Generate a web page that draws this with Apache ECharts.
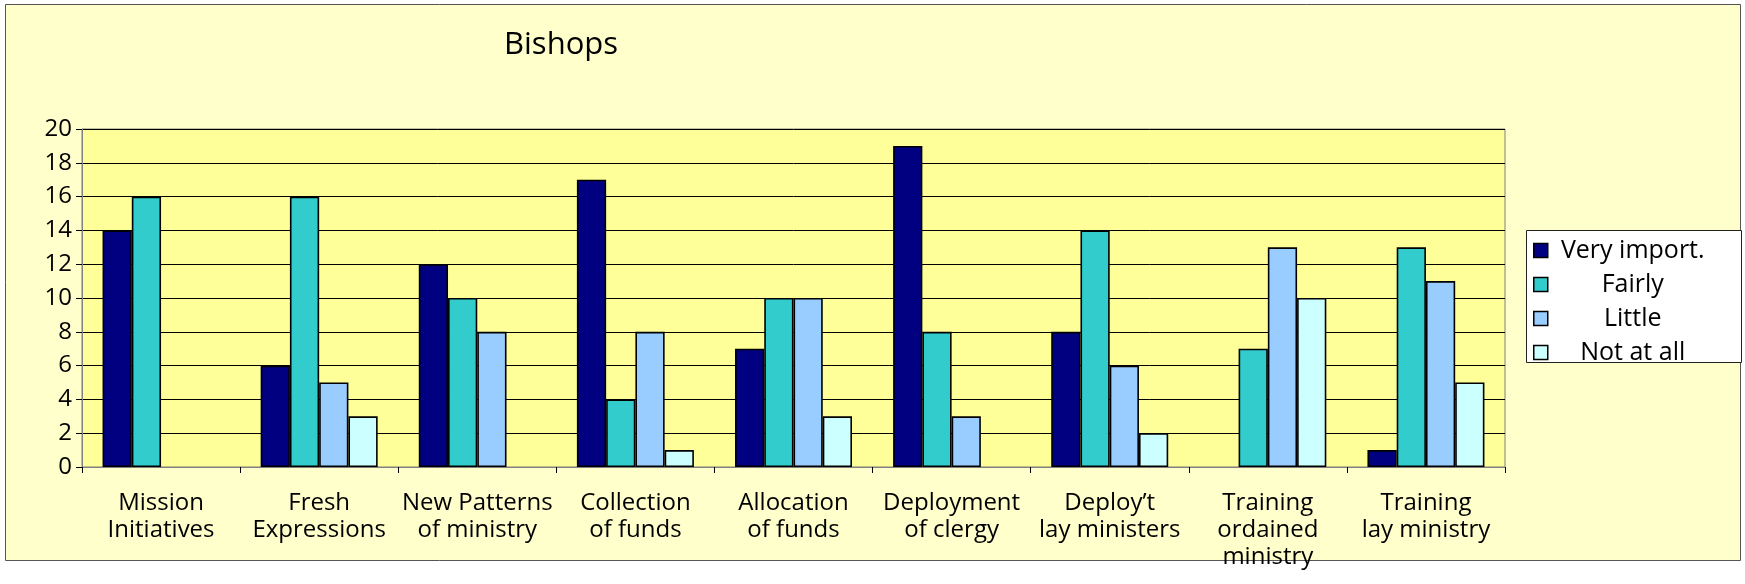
<!DOCTYPE html>
<html>
<head>
<meta charset="utf-8">
<script src="https://cdn.jsdelivr.net/npm/echarts@6/dist/echarts.min.js"></script>
<style>
  html, body { margin: 0; padding: 0; background: #fff; }
  #chart { width: 1745px; height: 584px; }
</style>
</head>
<body>
<div id="chart"></div>
<script>
// categories and answer counts
const categories = [
    'Mission\nInitiatives', 'Fresh\nExpressions', 'New Patterns\nof ministry',
    'Collection\nof funds', 'Allocation\nof funds', 'Deployment\nof clergy',
    'Deploy\u2019t\nlay ministers', 'Training\nordained\nministry', 'Training\nlay ministry'
];
const seriesNames = ['Very import.', 'Fairly', 'Little', 'Not at all'];
const veryImport = [14, 6, 12, 17, 7, 19, 8, 0, 1];
const fairly     = [16, 16, 10, 4, 10, 8, 14, 7, 13];
const little     = [0, 5, 8, 8, 10, 3, 6, 13, 11];
const notAtAll   = [0, 3, 0, 1, 3, 0, 2, 10, 5];
const yTicks = { min: 0, max: 20, interval: 2 };

const barColors = ['#000080', '#33CCCC', '#99CCFF', '#CCFFFF'];
const fontFam = '"Open Sans", sans-serif';

const chart = echarts.init(document.getElementById('chart'));

// zero counts are simply not drawn (no flat outline on the axis)
const buildSeries = (name, data, color) => ({
    name: name,
    type: 'bar',
    data: data.map(v => (v === 0 ? '-' : v)),
    barGap: '0%',
    barCategoryGap: '26%',
    itemStyle: { color: color, borderColor: '#000', borderWidth: 1.6 },
    emphasis: { disabled: true }
});

const option = {
    backgroundColor: '#ffffff',
    animation: false,
    textStyle: { fontFamily: fontFam },
    graphic: [
        {
            type: 'rect', z: -10, silent: true,
            shape: { x: 5.5, y: 4.5, width: 1735, height: 556 },
            style: { fill: '#FFFFCC', stroke: '#555', lineWidth: 1 }
        },
        {
            // legend frame, its bottom edge runs along the last entry like in the original
            type: 'rect', z: 0, silent: true,
            shape: { x: 1526.5, y: 230.5, width: 215, height: 132 },
            style: { fill: '#fff', stroke: '#222', lineWidth: 1 }
        }
    ],
    title: {
        text: 'Bishops',
        left: 499, top: 25,
        textStyle: { fontFamily: fontFam, fontSize: 31, fontWeight: 'normal', color: '#000' }
    },
    legend: {
        data: seriesNames,
        orient: 'vertical',
        left: 1526, top: 230,
        padding: [8, 30, 0, 7],
        itemGap: 9,
        itemWidth: 14, itemHeight: 14,
        icon: 'rect',
        itemStyle: { borderColor: '#000', borderWidth: 1.5 },
        formatter: '{a|{name}}',
        textStyle: {
            fontFamily: fontFam, fontSize: 25, color: '#000',
            rich: { a: { width: 160, align: 'center', fontSize: 25, lineHeight: 28, fontFamily: fontFam } }
        }
    },
    grid: {
        left: 82, right: 240, top: 129, bottom: 117,
        show: true, backgroundColor: '#FFFF99', borderColor: '#808080', borderWidth: 1
    },
    xAxis: {
        type: 'category',
        data: categories,
        axisLine: { lineStyle: { color: '#808080', width: 1 } },
        axisTick: { show: true, length: 6, lineStyle: { color: '#000' } },
        axisLabel: {
            interval: 0, margin: 23, color: '#000',
            fontFamily: fontFam, fontSize: 24, lineHeight: 27
        }
    },
    yAxis: {
        type: 'value',
        min: yTicks.min, max: yTicks.max, interval: yTicks.interval,
        axisLine: { show: true, lineStyle: { color: '#808080', width: 1 } },
        axisTick: { show: true, length: 6, lineStyle: { color: '#000' } },
        axisLabel: { color: '#000', fontFamily: fontFam, fontSize: 24, margin: 10 },
        splitLine: { lineStyle: { color: '#000', width: 1 } }
    },
    series: [
        buildSeries(seriesNames[0], veryImport, barColors[0]),
        buildSeries(seriesNames[1], fairly, barColors[1]),
        buildSeries(seriesNames[2], little, barColors[2]),
        buildSeries(seriesNames[3], notAtAll, barColors[3])
    ]
};

chart.setOption(option);
</script>
</body>
</html>
